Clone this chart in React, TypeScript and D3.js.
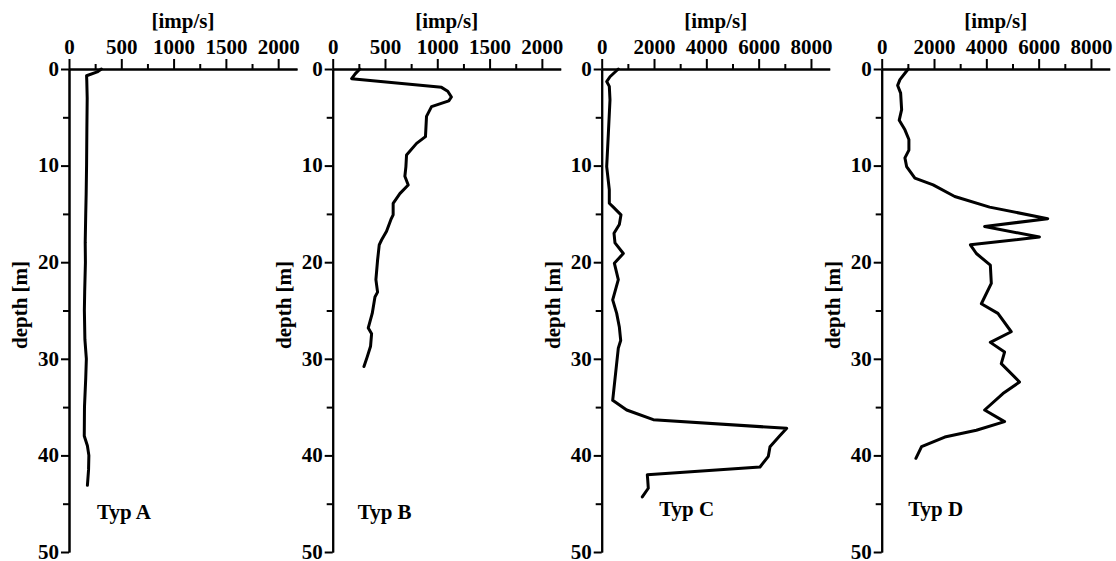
import React, { useEffect, useRef } from "react";
import * as d3 from "d3";

// depth [m], count rate [imp/s]
const typA: [number, number][] = [
  [0, 310], [0.3, 270], [0.7, 168], [1.2, 170], [3, 174], [6, 171], [10, 168], [13, 164],
  [15, 160], [18, 155], [20, 157], [23, 150], [25, 147], [28, 152], [30, 166], [32, 160],
  [35, 148], [38, 146], [39, 176], [40, 190], [41.5, 187], [43.1, 176],
];
const typB: [number, number][] = [
  [0, 260], [0.5, 215], [1.0, 181], [1.9, 1040], [2.3, 1100], [2.9, 1135], [3.3, 1110],
  [3.9, 945], [4.9, 897], [7.0, 887], [7.7, 802], [8.9, 706], [10.1, 700], [11.1, 690],
  [12.0, 722], [12.9, 642], [13.9, 578], [15.1, 578], [15.6, 556], [16.8, 515], [17.7, 467],
  [18.2, 445], [19.8, 429], [21.8, 413], [23.1, 429], [23.6, 404], [25.3, 378], [26.8, 340],
  [27.4, 372], [28.7, 362], [29.8, 330], [30.8, 299],
];
const typC: [number, number][] = [
  [0, 635], [0.8, 317], [1.3, 191], [1.8, 291], [3.2, 317], [6.7, 254], [10.1, 191],
  [12.5, 291], [13.9, 291], [14.3, 444], [15.1, 738], [16.1, 674], [17.0, 470], [18.0, 508],
  [19.1, 827], [20.1, 483], [21.8, 635], [23.9, 420], [25.3, 573], [26.7, 674], [28.1, 726],
  [28.9, 635], [34.3, 420], [35.3, 955], [36.3, 1973], [37.2, 7072], [38.0, 6800], [39.1, 6434],
  [40.1, 6370], [41.2, 6051], [42.0, 1743], [42.4, 1756], [43.4, 1781], [44.3, 1552],
];
const typD: [number, number][] = [
  [0, 1013], [1.1, 697], [1.7, 610], [2.5, 724], [4.2, 762], [5.3, 670], [6.3, 888],
  [7.3, 1040], [8.4, 1040], [9.2, 888], [10.1, 952], [11.3, 1269], [12.0, 1966], [13.2, 2792],
  [14.3, 4125], [15.5, 6346], [16.3, 3935], [17.4, 6030], [18.2, 3390], [19.1, 3619],
  [20.3, 4153], [22.2, 4190], [24.3, 3810], [25.3, 4443], [27.2, 4952], [28.3, 4153],
  [29.3, 4697], [30.5, 4571], [32.4, 5269], [33.6, 4634], [35.3, 3935], [36.5, 4697],
  [37.4, 3619], [38.1, 2411], [39.1, 1524], [40.3, 1307],
];

const smallTicks = [0, 500, 1000, 1500, 2000];
const smallMinor = [250, 750, 1250, 1750];
const bigTicks = [0, 2000, 4000, 6000, 8000];
const bigMinor = [1000, 3000, 5000, 7000];
const depthTicks = [0, 10, 20, 30, 40, 50];
const depthMinor = [5, 15, 25, 35, 45];
const labels = ["Typ A", "Typ B", "Typ C", "Typ D"];

const panels = [
  { data: typA, max: 2180, major: smallTicks, minor: smallMinor, x0: 69, lab: [55, 519] },
  { data: typB, max: 2180, major: smallTicks, minor: smallMinor, x0: 332.7, lab: [52, 519] },
  { data: typC, max: 8716, major: bigTicks, minor: bigMinor, x0: 601.7, lab: [85, 516] },
  { data: typD, max: 8716, major: bigTicks, minor: bigMinor, x0: 881.7, lab: [54, 516] },
];

const W = 1116, H = 561;
const TOP = 69, BOTTOM = 552, AXLEN = 228;
const FONT = "'Liberation Serif', 'Times New Roman', serif";
const FS = 21;

export default function App() {
  const ref = useRef<SVGSVGElement>(null);
  useEffect(() => {
    const svg = d3.select(ref.current);
    svg.selectAll("*").remove();
    svg.append("rect").attr("width", W).attr("height", H).attr("fill", "white");
    const y = d3.scaleLinear().domain([0, 50]).range([TOP, BOTTOM]);

    panels.forEach((p, i) => {
      const g = svg.append("g").attr("transform", `translate(${p.x0},0)`);
      const x = d3.scaleLinear().domain([0, p.max]).range([0, AXLEN]);

      const style = (sel: any) => {
        sel.select(".domain").attr("stroke", "#000").attr("stroke-width", 2);
        sel.selectAll(".tick line").attr("stroke", "#000").attr("stroke-width", 2);
        sel.selectAll("text").attr("font-family", FONT).attr("font-weight", "bold")
          .attr("font-size", FS).attr("fill", "#000");
      };

      // top axis
      const top = g.append("g").attr("transform", `translate(0,${TOP})`)
        .call(d3.axisTop(x).tickValues(p.major).tickSize(10).tickPadding(5).tickSizeOuter(0).tickFormat(d3.format("d")));
      style(top);
      const topMinor = g.append("g").attr("transform", `translate(0,${TOP})`)
        .call(d3.axisTop(x).tickValues(p.minor).tickSize(5).tickSizeOuter(0).tickFormat(() => ""));
      style(topMinor);

      // left axis
      const left = g.append("g")
        .call(d3.axisLeft(y).tickValues(depthTicks).tickSize(8).tickPadding(2).tickSizeOuter(0).tickFormat(d3.format("d")));
      style(left);
      left.selectAll(".tick text").attr("dy", "0.3em");
      const leftMinor = g.append("g")
        .call(d3.axisLeft(y).tickValues(depthMinor).tickSize(6).tickSizeOuter(0).tickFormat(() => ""));
      style(leftMinor);

      // titles
      g.append("text").attr("x", AXLEN / 2).attr("y", 27.5).attr("text-anchor", "middle")
        .attr("font-family", FONT).attr("font-weight", "bold").attr("font-size", FS).text("[imp/s]");
      g.append("text").attr("transform", `translate(-42,305) rotate(-90)`).attr("text-anchor", "middle")
        .attr("font-family", FONT).attr("font-weight", "bold").attr("font-size", FS).text("depth [m]");
      g.append("text").attr("x", p.lab[0]).attr("y", p.lab[1]).attr("text-anchor", "middle")
        .attr("font-family", FONT).attr("font-weight", "bold").attr("font-size", FS).text(labels[i]);

      const line = d3.line<[number, number]>().x((d) => x(d[1])).y((d) => y(d[0]));
      g.append("path").datum(p.data).attr("d", line).attr("fill", "none")
        .attr("stroke", "#000").attr("stroke-width", 3).attr("stroke-linejoin", "round").attr("stroke-linecap", "round");
    });
  }, []);
  return <svg ref={ref} width={W} height={H} style={{ position: "absolute", left: 0, top: 0 }} />;
}
